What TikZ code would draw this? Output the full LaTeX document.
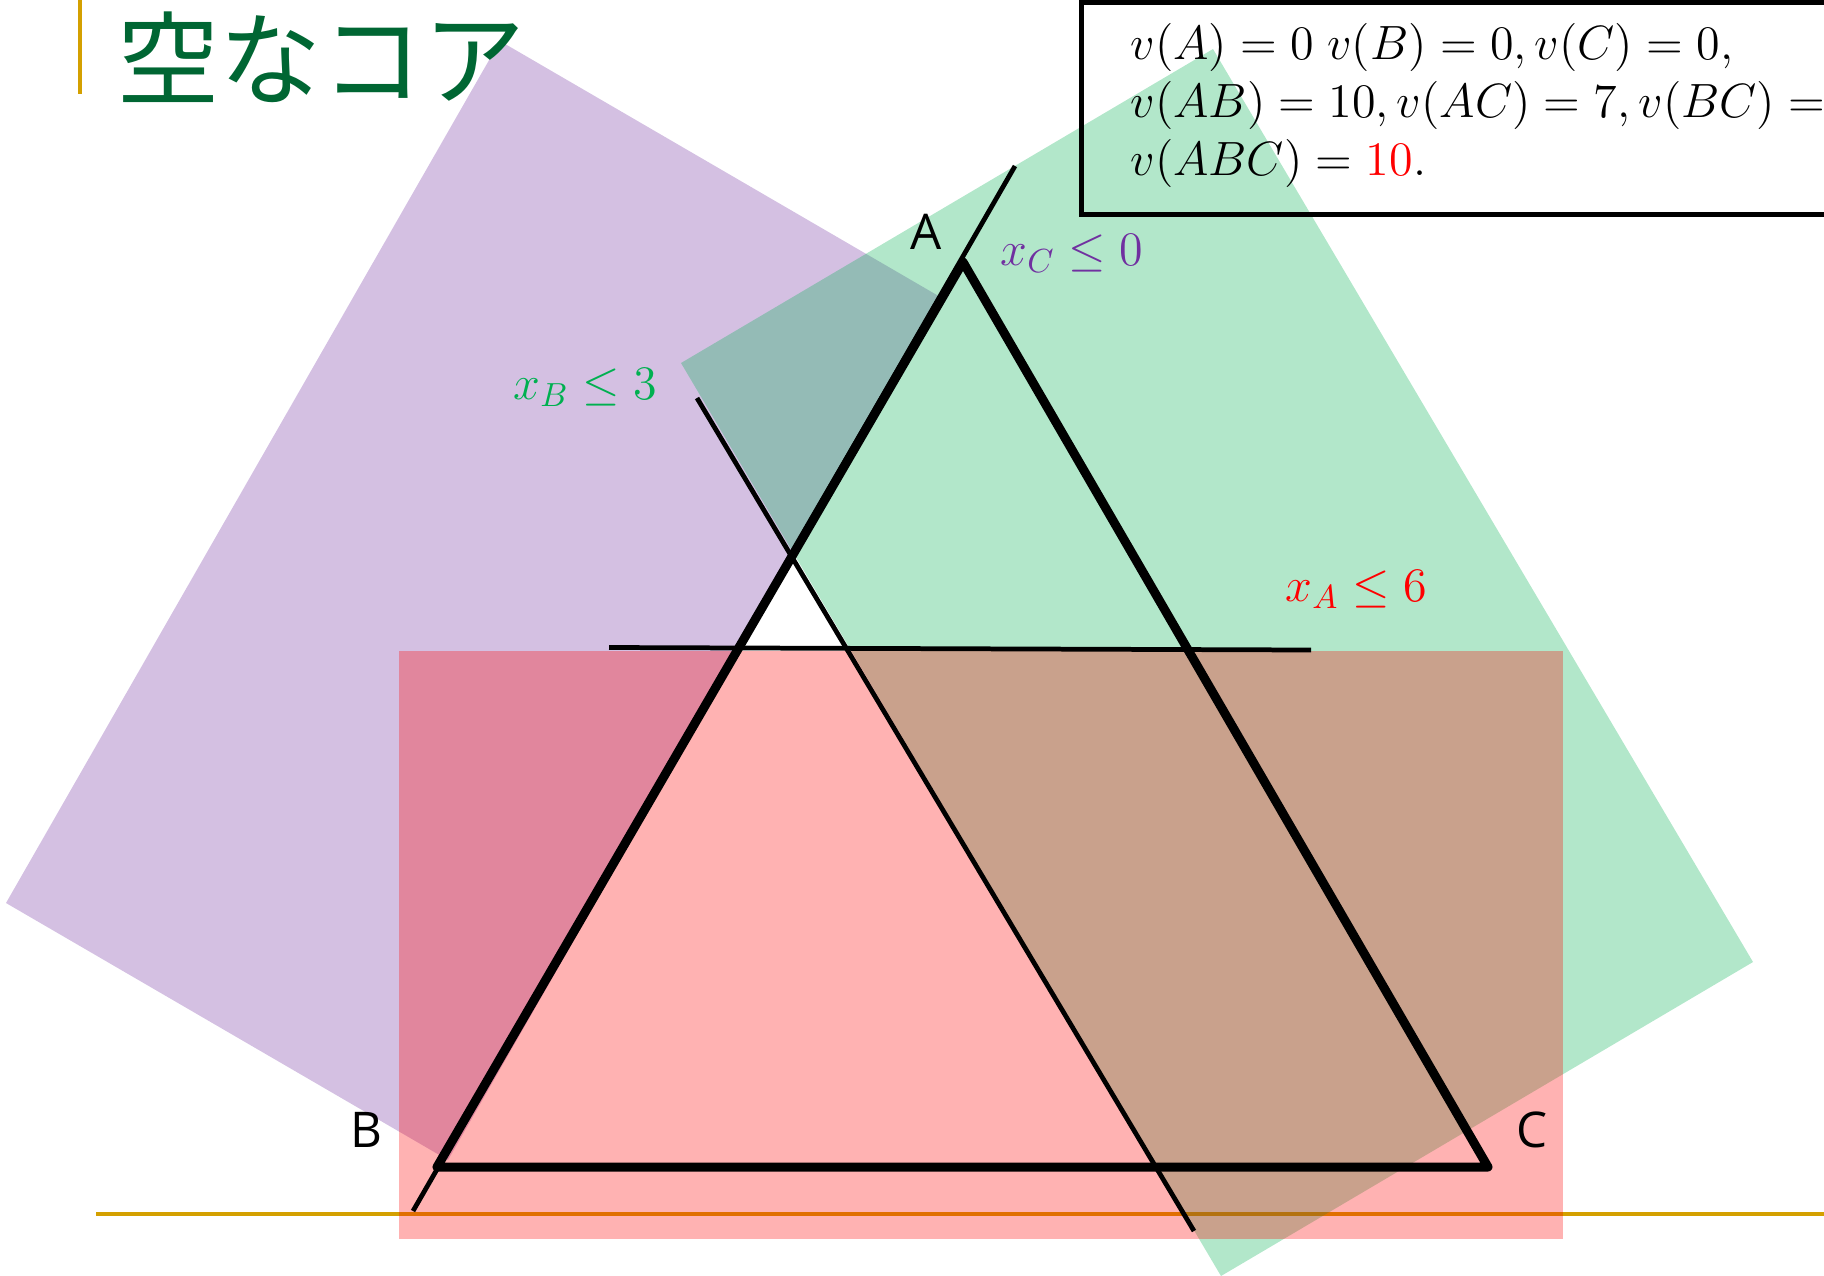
\documentclass[tikz,border=0pt]{standalone}
\usepackage{fontspec}
\newfontfamily\jpfont{Noto Sans CJK JP}
\newfontfamily\labfont{Open Sans}
\usetikzlibrary{calc}
\definecolor{vio}{RGB}{112,48,160}
\definecolor{grn}{RGB}{0,176,80}
\definecolor{titlegreen}{RGB}{0,102,51}
\definecolor{gold}{RGB}{212,160,0}
\newcommand{\shrinkmath}[1]{\scalebox{0.95}{#1}}
\begin{document}
\begin{tikzpicture}[x=0.01cm,y=-0.01cm,
  region/.style={fill opacity=0.3, draw=none},
  thickedge/.style={line width=2.56pt, line join=round, line cap=round},
  thinedge/.style={line width=1.35pt},
  vertex/.style={font=\labfont\fontsize{14}{16}\selectfont, inner sep=0pt},
  ineq/.style={font=\fontsize{14.4}{16}\selectfont, inner sep=0pt, anchor=base west},
  boxline/.style={font=\fontsize{14.4}{16}\selectfont, inner sep=0pt, anchor=base west},
  rule/.style={gold, line width=1.15pt}]
\useasboundingbox (0,0) rectangle (1824,1275);
% decorative rules
\draw[rule] (80,0) -- (80,94);
\draw[rule] (96,1214) -- (1824,1214);
% half-plane regions
\fill[vio, region] (500,41) -- (942,298) -- (448,1160) -- (6,903) -- cycle;
\fill[grn, region] (681,363) -- (1213,49) -- (1753,962) -- (1221,1276) -- cycle;
\fill[red, region] (399,651) rectangle (1563,1239);
% value box
\draw[line width=1.42pt] (1081,2.5) rectangle (1870,214);
\node[boxline] (v1) at (1130,59) {\shrinkmath{$v(A)=0\;v(B)=0,v(C)=0,$}};
\node[boxline] (v2) at (1130,117) {\shrinkmath{$v(AB)=10,v(AC)=7,v(BC)=$}};
\node[boxline] (v3) at (1130,175) {\shrinkmath{$v(ABC)=\textcolor{red}{10}.$}};
% triangle vertices
\coordinate (A) at (963,262);
\coordinate (B) at (437,1167);
\coordinate (C) at (1488,1167);
% constraint lines
\coordinate (cTop) at (1015,166);
\coordinate (cBot) at (413,1211);
\coordinate (bTop) at (697,398);
\coordinate (bBot) at (1194,1231);
\coordinate (aL) at (609,647.5);
\coordinate (aR) at (1311,650);
\draw[thinedge] (cTop) -- (cBot);
\draw[thinedge] (bTop) -- (bBot);
\draw[thinedge] (aL) -- (aR);
% simplex
\draw[thickedge] (A) -- (B) -- (C) -- cycle;
% labels
\node[vertex] (lA) at (926,232) {A};
\node[vertex] (lB) at (366,1130) {B};
\node[vertex] (lC) at (1532,1130) {C};
\node[ineq, text=vio] (xc) at (1000,265) {\shrinkmath{$x_C\leq 0$}};
\node[ineq, text=grn] (xb) at (513,399) {\shrinkmath{$x_B\leq 3$}};
\node[ineq, text=red] (xa) at (1285,601) {\shrinkmath{$x_A\leq 6$}};
% title
\node[anchor=west, inner sep=0pt, text=titlegreen, font=\jpfont\fontsize{29}{30}\selectfont] (title) at (117,57) {空なコア};
\end{tikzpicture}
\end{document}
